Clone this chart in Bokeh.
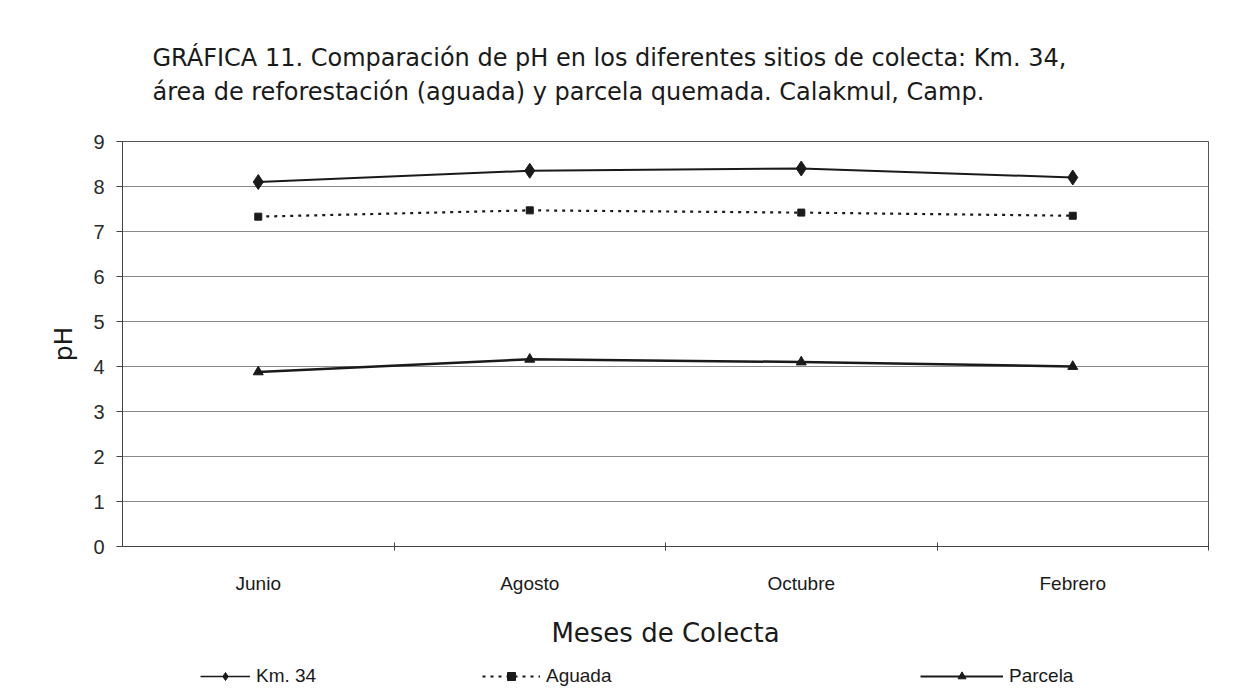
from bokeh.plotting import figure
from bokeh.layouts import column
from bokeh.models import (FactorRange, Range1d, Title, Legend, LegendItem,
                          LinearAxis, FixedTicker)
from bokeh.embed import file_html
from bokeh.resources import INLINE

# ---------------- data ----------------
months = ["Junio", "Agosto", "Octubre", "Febrero"]
km34 = [8.1, 8.35, 8.4, 8.2]
aguada = [7.33, 7.47, 7.42, 7.35]
parcela = [3.88, 4.16, 4.1, 4.0]
y_ticks = [0, 1, 2, 3, 4, 5, 6, 7, 8, 9]
series_names = ["Km. 34", "Aguada", "Parcela"]
title_lines = [
    "GRÁFICA 11. Comparación de pH en los diferentes sitios de colecta: Km. 34,",
    "área de reforestación (aguada) y parcela quemada. Calakmul, Camp.",
]
x_title = "Meses de Colecta"
y_title = "pH"

TITLE_FONT = "DejaVu Sans"
LABEL_FONT = "Liberation Sans"
INK = "#1a1a1a"
W = 1235
FRAME_L, FRAME_R, FRAME_T, FRAME_B = 122, 1208, 141, 546
H1 = 650          # main chart height
H2 = 40           # legend strip height

p = figure(width=W, height=H1,
           x_range=FactorRange(*months, range_padding=0),
           y_range=Range1d(0, 9),
           output_backend="svg", toolbar_location=None,
           min_border_left=FRAME_L, min_border_right=W - FRAME_R,
           min_border_top=FRAME_T, min_border_bottom=H1 - FRAME_B)

p.background_fill_color = "white"
p.border_fill_color = "white"
p.outline_line_color = "#555555"
p.outline_line_width = 1

# grid
p.xgrid.grid_line_color = None
p.ygrid.grid_line_color = "#8a8a8a"
p.ygrid.grid_line_width = 1
p.ygrid.ticker = FixedTicker(ticks=y_ticks)

# y axis
p.yaxis.ticker = FixedTicker(ticks=y_ticks)
p.yaxis.major_label_text_font = LABEL_FONT
p.yaxis.major_label_text_font_size = "20px"
p.yaxis.major_label_text_color = "#2a2a2a"
p.yaxis.major_tick_out = 6
p.yaxis.major_tick_in = 0
p.yaxis.minor_tick_line_color = None
p.yaxis.axis_line_color = "#444444"
p.yaxis.major_tick_line_color = "#444444"
p.yaxis.major_label_standoff = 12
p.yaxis.axis_label = y_title
p.yaxis.axis_label_text_font = TITLE_FONT
p.yaxis.axis_label_text_font_size = "25px"
p.yaxis.axis_label_text_font_style = "normal"
p.yaxis.axis_label_text_color = INK
p.yaxis.axis_label_standoff = 12

# x axis (category labels)
xax = p.xaxis[0]
xax.major_tick_line_color = None
xax.axis_line_color = None
xax.major_label_text_font = LABEL_FONT
xax.major_label_text_font_size = "19px"
xax.major_label_text_color = INK
xax.major_label_standoff = 16
xax.axis_label = x_title
xax.axis_label_text_font = TITLE_FONT
xax.axis_label_text_font_size = "26px"
xax.axis_label_text_font_style = "normal"
xax.axis_label_text_color = INK
xax.axis_label_standoff = 21

# boundary ticks axis (between categories), no labels
bticks = [1, 2, 3, 4]
tick_axis = LinearAxis(ticker=FixedTicker(ticks=bticks),
                       major_label_overrides={t: "" for t in bticks},
                       major_tick_out=4, major_tick_in=4,
                       major_label_standoff=0,
                       axis_line_color="#444444",
                       major_tick_line_color="#444444",
                       minor_tick_line_color=None)
p.below = [tick_axis] + list(p.below)

# title (two lines in one title block)
p.add_layout(Title(text="\n".join(title_lines), align="left", offset=30,
                   standoff=70, text_font=TITLE_FONT, text_font_size="24px",
                   text_line_height=1.22,
                   text_font_style="normal", text_color=INK), "above")

# series
style = [
    dict(marker="diamond", size=15, dash="solid", lw=2.0),
    dict(marker="square", size=7, dash="3 5", lw=2.2),
    dict(marker="triangle", size=10, dash="solid", lw=2.5),
]
values = [km34, aguada, parcela]
for vals, st in zip(values, style):
    p.line(months, vals, line_color=INK, line_width=st["lw"],
           line_dash=st["dash"])
    p.scatter(months, vals, marker=st["marker"], size=st["size"],
              fill_color=INK, line_color=INK)

# legend strip below the chart (same x layout, series kept out of view)
pl = figure(width=W, height=H2,
            x_range=FactorRange(*months, range_padding=0),
            y_range=Range1d(-100, -99),
            x_axis_location=None, y_axis_location=None,
            output_backend="svg", toolbar_location=None,
            min_border_left=FRAME_L, min_border_right=W - FRAME_R,
            min_border_top=0, min_border_bottom=0,
            outline_line_color=None)
pl.grid.visible = False
leg_pos = [(200, 50), (482, 58), (920, 83)]
leg_style = [
    dict(marker="diamond", size=14, dash="solid", lw=1.6),
    dict(marker="square", size=6, dash="3 5", lw=2.0),
    dict(marker="triangle", size=9, dash="solid", lw=1.8),
]
for name, vals, st, (lx, gw) in zip(series_names, values, leg_style, leg_pos):
    rl = pl.line(months, vals, line_color=INK, line_width=st["lw"],
                 line_dash=st["dash"])
    rm = pl.scatter(months, vals, marker=st["marker"], size=st["size"],
                    fill_color=INK, line_color=INK)
    leg = Legend(items=[LegendItem(label=name, renderers=[rl, rm])],
                 location=(lx - FRAME_L, 3), orientation="horizontal",
                 glyph_width=gw, glyph_height=20, label_height=20,
                 label_standoff=6, padding=0, margin=0,
                 border_line_color=None, background_fill_alpha=0,
                 label_text_font=LABEL_FONT, label_text_font_size="19px",
                 label_text_color=INK)
    pl.add_layout(leg)

layout = column(p, pl, spacing=0)
open("out.html", "w").write(file_html(layout, INLINE))
